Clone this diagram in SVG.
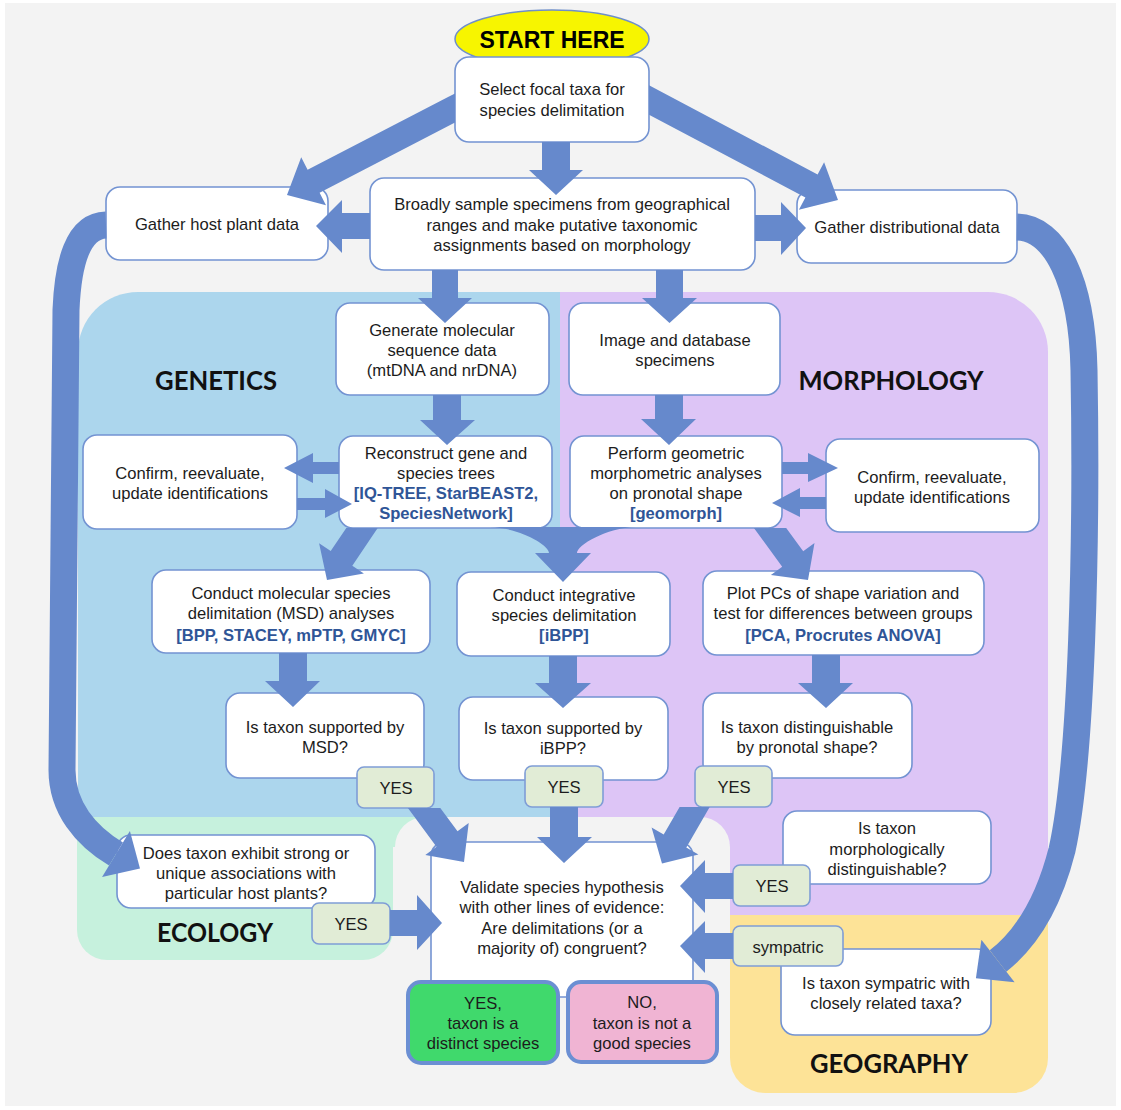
<svg xmlns="http://www.w3.org/2000/svg" width="1121" height="1110" viewBox="0 0 1121 1110">
  <style>
    .box { fill: #ffffff; stroke: #7393d2; stroke-width: 1.6; }
    .tag { fill: #e1ecd6; stroke: #7f9dd6; stroke-width: 1.6; }
    .t { font-family: "Liberation Sans", Arial, sans-serif; font-size: 16.6px; fill: #1c1c1c; text-anchor: middle; }
    .b { font-weight: bold; fill: #2f5597; }
    .title { font-family: Lato, "Open Sans", sans-serif; font-weight: bold; font-size: 26px; text-anchor: middle; fill: #111111; }
    .arr { fill: #6689cc; }
    .band { fill: none; stroke: #6689cc; stroke-width: 27; }
  </style>

  <!-- page -->
  <rect x="0" y="0" width="1121" height="1110" fill="#ffffff"/>
  <rect x="5" y="3" width="1111" height="1103" fill="#f3f3f3"/>

  <!-- evidence panels -->
  <g id="panels">
    <path id="panel-genetics" d="M78 817 L78 352 A60 60 0 0 1 138 292 L560 292 L560 817 Z" fill="#acd6ed"/>
    <path id="panel-morphology" d="M560 292 L988 292 A60 60 0 0 1 1048 352 L1048 915 L560 915 Z" fill="#ddc5f6"/>
    <rect x="380" y="817" width="40" height="30" fill="#c6f1dd"/>
    <path id="panel-ecology" d="M77 817 L393 817 L393 930 A30 30 0 0 1 363 960 L107 960 A30 30 0 0 1 77 930 Z" fill="#c6f1dd"/>
    <path id="panel-geography" d="M730 915 L1048 915 L1048 1058 A35 35 0 0 1 1013 1093 L765 1093 A35 35 0 0 1 730 1058 Z" fill="#fde397"/>
    <path id="panel-validation" d="M395 1106 L395 847 A30 30 0 0 1 425 817 L700 817 A30 30 0 0 1 730 847 L730 1106 Z" fill="#f3f3f3"/>
    <text class="title" x="216" y="390" textLength="122" lengthAdjust="spacingAndGlyphs">GENETICS</text>
    <text class="title" x="891" y="390" textLength="185" lengthAdjust="spacingAndGlyphs">MORPHOLOGY</text>
    <text class="title" x="215" y="942" textLength="116" lengthAdjust="spacingAndGlyphs">ECOLOGY</text>
    <text class="title" x="889" y="1073" textLength="158" lengthAdjust="spacingAndGlyphs">GEOGRAPHY</text>
  </g>

  <!-- nodes -->
  <g id="nodes">
    <g id="start">
      <ellipse cx="552" cy="39" rx="97" ry="29" fill="#f7f500" stroke="#6f8fc9" stroke-width="1.5"/>
      <text class="t" x="552" y="47.5" style="font-size:23px;font-weight:bold;fill:#000">START HERE</text>
    </g>
    <g id="select">
      <rect class="box" x="455" y="57" width="194" height="85" rx="14"/>
      <text class="t" x="552" y="95">Select focal taxa for</text>
      <text class="t" x="552" y="116">species delimitation</text>
    </g>
    <g id="sample">
      <rect class="box" x="370" y="178" width="385" height="92" rx="14"/>
      <text class="t" x="562" y="210">Broadly sample specimens from geographical</text>
      <text class="t" x="562" y="231">ranges and make putative taxonomic</text>
      <text class="t" x="562" y="251">assignments based on morphology</text>
    </g>
    <g id="host-data">
      <rect class="box" x="106" y="187" width="222" height="73" rx="14"/>
      <text class="t" x="217" y="230">Gather host plant data</text>
    </g>
    <g id="dist-data">
      <rect class="box" x="797" y="190" width="220" height="73" rx="14"/>
      <text class="t" x="907" y="233">Gather distributional data</text>
    </g>
    <g id="sequence">
      <rect class="box" x="336" y="303" width="213" height="92" rx="14"/>
      <text class="t" x="442" y="336">Generate molecular</text>
      <text class="t" x="442" y="356">sequence data</text>
      <text class="t" x="442" y="376">(mtDNA and nrDNA)</text>
    </g>
    <g id="image">
      <rect class="box" x="569" y="303" width="211" height="92" rx="14"/>
      <text class="t" x="675" y="346">Image and database</text>
      <text class="t" x="675" y="366">specimens</text>
    </g>
    <g id="trees">
      <rect class="box" x="339" y="436" width="213" height="92" rx="14"/>
      <text class="t" x="446" y="459">Reconstruct gene and</text>
      <text class="t" x="446" y="479">species trees</text>
      <text class="t b" x="446" y="499">[IQ-TREE, StarBEAST2,</text>
      <text class="t b" x="446" y="519">SpeciesNetwork]</text>
    </g>
    <g id="geomorph">
      <rect class="box" x="570" y="436" width="212" height="92" rx="14"/>
      <text class="t" x="676" y="459">Perform geometric</text>
      <text class="t" x="676" y="479">morphometric analyses</text>
      <text class="t" x="676" y="499">on pronotal shape</text>
      <text class="t b" x="676" y="519">[geomorph]</text>
    </g>
    <g id="confirm-genetics">
      <rect class="box" x="83" y="435" width="214" height="94" rx="14"/>
      <text class="t" x="190" y="479">Confirm, reevaluate,</text>
      <text class="t" x="190" y="499">update identifications</text>
    </g>
    <g id="confirm-morphology">
      <rect class="box" x="826" y="439" width="213" height="93" rx="14"/>
      <text class="t" x="932" y="483">Confirm, reevaluate,</text>
      <text class="t" x="932" y="503">update identifications</text>
    </g>
    <g id="msd">
      <rect class="box" x="152" y="570" width="278" height="83" rx="14"/>
      <text class="t" x="291" y="599">Conduct molecular species</text>
      <text class="t" x="291" y="619">delimitation (MSD) analyses</text>
      <text class="t b" x="291" y="641">[BPP, STACEY, mPTP, GMYC]</text>
    </g>
    <g id="integrative">
      <rect class="box" x="457" y="572" width="213" height="84" rx="14"/>
      <text class="t" x="564" y="601">Conduct integrative</text>
      <text class="t" x="564" y="621">species delimitation</text>
      <text class="t b" x="564" y="641">[iBPP]</text>
    </g>
    <g id="pca">
      <rect class="box" x="703" y="571" width="281" height="84" rx="14"/>
      <text class="t" x="843" y="599">Plot PCs of shape variation and</text>
      <text class="t" x="843" y="619">test for differences between groups</text>
      <text class="t b" x="843" y="641">[PCA, Procrutes ANOVA]</text>
    </g>
    <g id="q-msd">
      <rect class="box" x="226" y="693" width="198" height="85" rx="14"/>
      <text class="t" x="325" y="733">Is taxon supported by</text>
      <text class="t" x="325" y="753">MSD?</text>
    </g>
    <g id="q-ibpp">
      <rect class="box" x="459" y="697" width="209" height="83" rx="14"/>
      <text class="t" x="563" y="734">Is taxon supported by</text>
      <text class="t" x="563" y="754">iBPP?</text>
    </g>
    <g id="q-shape">
      <rect class="box" x="703" y="693" width="209" height="85" rx="14"/>
      <text class="t" x="807" y="733">Is taxon distinguishable</text>
      <text class="t" x="807" y="753">by pronotal shape?</text>
    </g>
    <g id="yes-msd">
      <rect class="tag" x="357" y="767" width="77" height="41" rx="7"/>
      <text class="t" x="396" y="794">YES</text>
    </g>
    <g id="yes-ibpp">
      <rect class="tag" x="525" y="766" width="78" height="41" rx="7"/>
      <text class="t" x="564" y="793">YES</text>
    </g>
    <g id="yes-shape">
      <rect class="tag" x="695" y="766" width="77" height="41" rx="7"/>
      <text class="t" x="734" y="793">YES</text>
    </g>
    <g id="q-host">
      <rect class="box" x="117" y="835" width="258" height="73" rx="14"/>
      <text class="t" x="246" y="859">Does taxon exhibit strong or</text>
      <text class="t" x="246" y="879">unique associations with</text>
      <text class="t" x="246" y="899">particular host plants?</text>
    </g>
    <g id="yes-host">
      <rect class="tag" x="312" y="903" width="78" height="41" rx="7"/>
      <text class="t" x="351" y="930">YES</text>
    </g>
    <g id="q-morph">
      <rect class="box" x="783" y="811" width="208" height="73" rx="14"/>
      <text class="t" x="887" y="834">Is taxon</text>
      <text class="t" x="887" y="855">morphologically</text>
      <text class="t" x="887" y="875">distinguishable?</text>
    </g>
    <g id="yes-morph">
      <rect class="tag" x="733" y="865" width="77" height="41" rx="7"/>
      <text class="t" x="772" y="892">YES</text>
    </g>
    <g id="q-sympatric">
      <rect class="box" x="781" y="949" width="210" height="86" rx="14"/>
      <text class="t" x="886" y="989">Is taxon sympatric with</text>
      <text class="t" x="886" y="1009">closely related taxa?</text>
    </g>
    <g id="sympatric">
      <rect class="tag" x="733" y="926" width="110" height="40" rx="7"/>
      <text class="t" x="788" y="953">sympatric</text>
    </g>
    <g id="validate">
      <rect class="box" x="431" y="842" width="262" height="155" rx="14"/>
      <text class="t" x="562" y="893">Validate species hypothesis</text>
      <text class="t" x="562" y="913">with other lines of evidence:</text>
      <text class="t" x="562" y="934">Are delimitations (or a</text>
      <text class="t" x="562" y="954">majority of) congruent?</text>
    </g>
    <g id="result-yes">
      <rect x="408" y="982" width="150" height="81" rx="13" fill="#40d96c" stroke="#6b8fd3" stroke-width="4"/>
      <text class="t" x="483" y="1009">YES,</text>
      <text class="t" x="483" y="1029">taxon is a</text>
      <text class="t" x="483" y="1049">distinct species</text>
    </g>
    <g id="result-no">
      <rect x="568" y="982" width="149" height="80" rx="13" fill="#f0b4d3" stroke="#6b8fd3" stroke-width="4"/>
      <text class="t" x="642" y="1008">NO,</text>
      <text class="t" x="642" y="1029">taxon is not a</text>
      <text class="t" x="642" y="1049">good species</text>
    </g>
  </g>

  <!-- connectors -->
  <g id="connectors" class="arr">
    <!-- from the focal taxa box -->
    <polygon points="542,142 570,142 570,170 583,170 556,195 529,170 542,170"/>
    <polygon points="455,93.4 449,96.5 307.6,169.7 301.2,157.2 287,195 326,205.2 319.6,192.7 455,122.6"/>
    <polygon points="649,85.3 817.6,174.5 824.1,162.2 838,200 798.9,209.8 805.4,197.5 649,114.8"/>
    <!-- from the sampling box -->
    <polygon points="370,213 342,213 342,200 316,226 342,253 342,239 370,239"/>
    <polygon points="755,215 781,215 781,202 806,228 781,255 781,241 755,241"/>
    <polygon points="432,270 458,270 458,298 472,298 445,323 418,298 432,298"/>
    <polygon points="656,270 683,270 683,298 697,298 669.5,323 642,298 656,298"/>
    <!-- genetics column -->
    <polygon points="433,395 461,395 461,420 475,420 447,445 420,420 433,420"/>
    <polygon points="339,462 313,462 313,453 284,468 313,483 313,474 339,474"/>
    <polygon points="297,498 325,498 325,489 352,504 325,518 325,510 297,510"/>
    <polygon points="346.3,528 377.7,528 352.3,565.7 363.9,573.5 327,580 319.1,543.3 330.7,551.1"/>
    <polygon points="279,653 307,653 307,681 320,681 293,707 265,681 279,681"/>
    <!-- morphology column -->
    <polygon points="655,395 683,395 683,419 696,419 669,445 641,419 655,419"/>
    <polygon points="782,462 808,462 808,453 838,468 808,482 808,474 782,474"/>
    <polygon points="826,497 800,497 800,488 772,503 800,517 800,509 826,509"/>
    <polygon points="753.9,528 786.2,528 803.2,551.3 814.5,543.1 808,580 770.9,574.9 782.2,566.7"/>
    <polygon points="812,655 840,655 840,683 853,683 826,708 798,683 812,683"/>
    <!-- trees + geomorph merge into integrative delimitation -->
    <path d="M490 527 L636 527 C606 528 577 545 577 553 L591 553 L563 582 L535 553 L549 553 C549 545 520 528 490 527 Z"/>
    <polygon points="549,656 577,656 577,683 591,683 563,708 535,683 549,683"/>
    <!-- YES answers into validation -->
    <polygon points="407.9,808 440.3,808 457.5,831.3 468.7,823 464,862 425.3,855 436.5,846.7"/>
    <polygon points="550,807 578,807 578,837 592,837 564,863 537,837 550,837"/>
    <polygon points="679.6,807 709.7,807 686.3,847.5 698.4,854.5 662,863.5 651.6,827.5 663.7,834.5"/>
    <polygon points="390,910 417,910 417,895 442,923 417,950 417,936 390,936"/>
    <polygon points="733,873 705,873 705,860 680,886 705,913 705,899 733,899"/>
    <polygon points="733,933 705,933 705,921 680,946 705,973 705,959 733,959"/>
    <!-- long bends from host plant and distribution data -->
    <path class="band" d="M106 225 C78 226 68 262 66 310 L62 770 C62 808 86 836 116 854"/>
    <polygon points="129.9,830.9 140,868.4 102.1,877.1"/>
    <path class="band" d="M1017 227 C1055 228 1082 280 1084 370 C1087 540 1082 760 1062 850 C1048 905 1025 940 998 961"/>
    <polygon points="981.4,939.7 975.9,978.2 1014.6,982.3"/>
  </g>
</svg>
